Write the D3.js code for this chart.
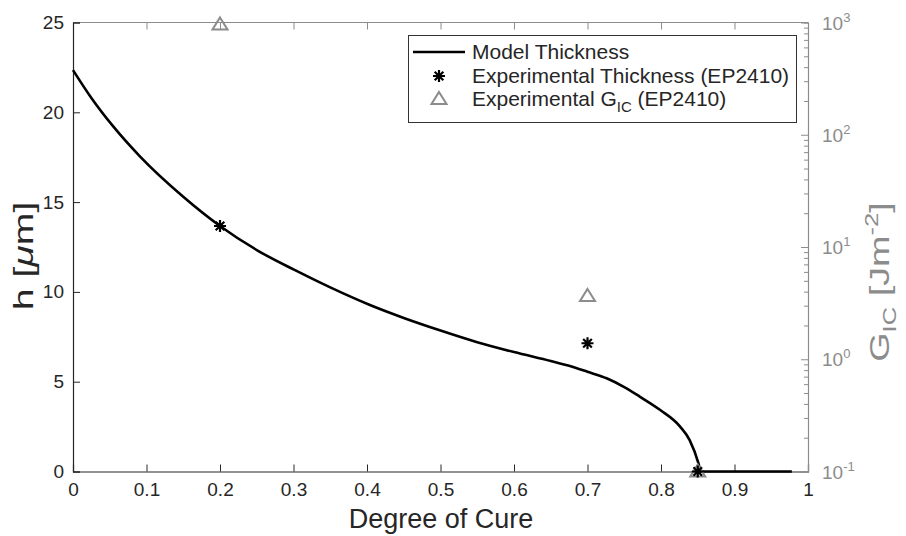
<!DOCTYPE html>
<html>
<head>
<meta charset="utf-8">
<script src="https://cdn.jsdelivr.net/npm/d3@7"></script>
<style>
  html, body { margin: 0; padding: 0; background: #fff; }
  svg { display: block; font-family: "Liberation Sans", Arial, Helvetica, sans-serif; }
</style>
</head>
<body>
<svg id="chart" width="906" height="536"></svg>
<script>
// ---- data ----
const curveDoC = [0, 0.025, 0.055, 0.091, 0.15, 0.2, 0.25, 0.3, 0.35, 0.404, 0.45, 0.5, 0.55, 0.6, 0.65, 0.676, 0.7, 0.726, 0.75, 0.771, 0.799, 0.826, 0.839, 0.851, 0.854, 0.978];
const curveH   = [22.35, 20.8, 19.2, 17.55, 15.3, 13.67, 12.33, 11.25, 10.25, 9.27, 8.55, 7.85, 7.2, 6.65, 6.15, 5.87, 5.55, 5.19, 4.7, 4.17, 3.42, 2.5, 1.75, 0.45, 0, 0];
const expDoC = [0.2, 0.7, 0.85];
const expH   = [13.67, 7.14, 0];
const gicDoC = [0.2, 0.7, 0.85];
const gicVal = [960, 3.66, 0.1];
const xTicks = [0, 0.1, 0.2, 0.3, 0.4, 0.5, 0.6, 0.7, 0.8, 0.9, 1];
const yTicks = [0, 5, 10, 15, 20, 25];
const rExps  = [-1, 0, 1, 2, 3];
const legendLabels = ["Model Thickness", "Experimental Thickness (EP2410)", "Experimental G"];

// ---- layout ----
const L = 73, R = 808, T = 22.5, B = 471.5;
const dark = "#262626", gray = "#8c8c8c";
const svg = d3.select("#chart");

const x = d3.scaleLinear().domain([0, 1]).range([L, R]);
const y = d3.scaleLinear().domain([0, 25]).range([B, T]);
const yr = d3.scaleLog().domain([0.1, 1000]).range([B, T]);

// top box line
svg.append("line").attr("x1", L).attr("x2", R).attr("y1", T).attr("y2", T).attr("stroke", gray).attr("stroke-width", 1);

// bottom axis
const gx = svg.append("g").attr("transform", `translate(0,${B})`)
  .call(d3.axisBottom(x).tickValues(xTicks).tickSize(-7).tickPadding(11).tickFormat(d => d3.format("")(d)));
// top ticks
const gxt = svg.append("g").attr("transform", `translate(0,${T})`)
  .call(d3.axisTop(x).tickValues(xTicks).tickSize(-7).tickFormat(""));
gxt.select(".domain").remove();
gxt.selectAll("line").attr("stroke", gray);

// left axis
const gy = svg.append("g").attr("transform", `translate(${L},0)`)
  .call(d3.axisLeft(y).tickValues(yTicks).tickSize(-7).tickPadding(9));

[gx, gy].forEach(g => {
  g.select(".domain").attr("stroke", dark).attr("stroke-width", 1.2);
  g.selectAll(".tick line").attr("stroke", dark);
  g.selectAll(".tick text").attr("fill", dark).style("font-size", "19px").style("font-family", "Liberation Sans, Arial, sans-serif");
});
gx.selectAll(".tick text").attr("dy", "0.71em");

// right log axis
const minor = [];
rExps.forEach(e => { if (e < 3) for (let k = 2; k <= 9; k++) minor.push(k * Math.pow(10, e)); });
const gr = svg.append("g").attr("transform", `translate(${R},0)`)
  .call(d3.axisRight(yr).tickValues(minor).tickSize(-4).tickFormat(""));
gr.select(".domain").attr("stroke", gray).attr("stroke-width", 1.2);
gr.selectAll("line").attr("stroke", gray);
const grM = svg.append("g").attr("transform", `translate(${R},0)`)
  .call(d3.axisRight(yr).tickValues(rExps.map(e => Math.pow(10, e))).tickSize(-7).tickFormat(""));
grM.select(".domain").remove();
grM.selectAll("line").attr("stroke", gray);
rExps.forEach(e => {
  const t = svg.append("text").attr("x", R + 14).attr("y", yr(Math.pow(10, e)) + 7)
    .attr("fill", gray).style("font-size", "19px");
  t.append("tspan").text("10");
  t.append("tspan").attr("dy", -8).style("font-size", "13px").text(String(e));
});

// model curve
const line = d3.line().x(d => x(d[0])).y(d => y(d[1])).curve(d3.curveMonotoneX);
svg.append("path").datum(curveDoC.map((d, i) => [d, curveH[i]]))
  .attr("d", line).attr("fill", "none").attr("stroke", "#000").attr("stroke-width", 2.6);

// markers
const starPath = r => { const d = r * 0.72; return `M${-r},0L${r},0M0,${-r}L0,${r}M${-d},${-d}L${d},${d}M${-d},${d}L${d},${-d}`; };
const triPath = "M0,-7L7.5,5L-7.5,5Z";

svg.selectAll(".tri").data(gicDoC.map((d, i) => [d, gicVal[i]])).enter().append("path")
  .attr("transform", d => `translate(${x(d[0])},${yr(d[1])})`)
  .attr("d", triPath).attr("fill", "none").attr("stroke", gray).attr("stroke-width", 2);

svg.selectAll(".star").data(expDoC.map((d, i) => [d, expH[i]])).enter().append("path")
  .attr("transform", d => `translate(${x(d[0])},${y(d[1])})`)
  .attr("d", starPath(6)).attr("fill", "none").attr("stroke", "#000").attr("stroke-width", 2.2);

// legend
const lg = svg.append("g");
lg.append("rect").attr("x", 408.5).attr("y", 35.5).attr("width", 388).attr("height", 87)
  .attr("fill", "#fff").attr("stroke", "#333").attr("stroke-width", 1);
const rowY = [52, 76, 99];
lg.append("line").attr("x1", 413).attr("x2", 465).attr("y1", rowY[0]).attr("y2", rowY[0]).attr("stroke", "#000").attr("stroke-width", 2.6);
lg.append("path").attr("transform", `translate(439,${rowY[1]})`).attr("d", starPath(6)).attr("fill", "none").attr("stroke", "#000").attr("stroke-width", 2.2);
lg.append("path").attr("transform", `translate(439,${rowY[2]})`).attr("d", triPath).attr("fill", "none").attr("stroke", gray).attr("stroke-width", 2);
legendLabels.forEach((s, i) => {
  const t = lg.append("text").attr("x", 472).attr("y", rowY[i] + 7).attr("fill", dark).style("font-size", "21px");
  t.append("tspan").text(s);
  if (i === 2) {
    t.append("tspan").attr("dy", 6).style("font-size", "15px").text("IC");
    t.append("tspan").attr("dy", -6).text(" (EP2410)");
  }
});

// axis titles
svg.append("text").attr("x", 441).attr("y", 528).attr("text-anchor", "middle")
  .attr("fill", dark).style("font-size", "27px").text("Degree of Cure");

const yl = svg.append("text").attr("transform", "translate(33,256) rotate(-90) scale(1.4,1)").attr("text-anchor", "middle")
  .attr("fill", dark).style("font-size", "28px");
yl.append("tspan").text("h [");
yl.append("tspan").style("font-style", "italic").text("μ");
yl.append("tspan").text("m]");

const rl = svg.append("text").attr("transform", "translate(889,282) rotate(-90) scale(1.35,1)").attr("text-anchor", "middle")
  .attr("fill", gray).style("font-size", "28px");
rl.append("tspan").text("G");
rl.append("tspan").attr("dy", 7).style("font-size", "19px").text("IC");
rl.append("tspan").attr("dy", -7).text(" [Jm");
rl.append("tspan").attr("dy", -11).style("font-size", "19px").text("-2");
rl.append("tspan").attr("dy", 11).text("]");
</script>
</body>
</html>
